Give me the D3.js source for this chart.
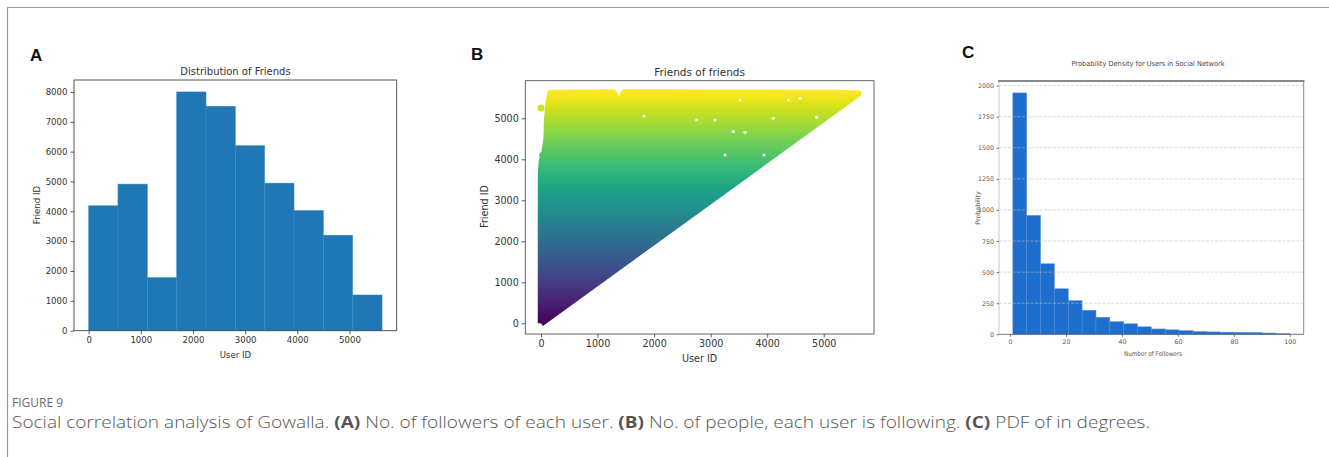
<!DOCTYPE html>
<html><head><meta charset="utf-8">
<script src="https://cdn.jsdelivr.net/npm/d3@7"></script>
<style>
body{margin:0;background:#fff;}
svg{display:block;}
</style></head>
<body><svg id="c" width="1329" height="457"></svg>
<script>
// ---------- DATA ----------
// Panel A: histogram "Distribution of Friends"
const aBinEdges = [0, 562, 1125, 1687, 2250, 2812, 3375, 3937, 4500, 5062, 5625];
const aCounts = [4185, 4912, 1779, 8000, 7519, 6199, 4945, 4028, 3200, 1197];
const aXTicks = [0, 1000, 2000, 3000, 4000, 5000];
const aYTicks = [0, 1000, 2000, 3000, 4000, 5000, 6000, 7000, 8000];

// Panel B: scatter "Friends of friends" — outline of the dense point cloud (User ID, Friend ID)
const bCloudOutline = [[0,0],[0,3600],[15,3950],[60,4150],[100,4500],[110,5000],[140,5400],[170,5620],
  [1280,5630],[1330,5480],[1430,5480],[1470,5630],[5250,5620],[5610,5600],[0,0]];
const bExtraPoints = [[0,5250],[30,4100]];
const bGaps = [[1822,5056],[3078,4958],[3401,4674],[3608,4659],[3254,4105],[3944,4105],[4374,5446],
  [4581,5488],[4108,5000],[3520,5446],[4876,5024],[2754,4958]];
const bXTicks = [0, 1000, 2000, 3000, 4000, 5000];
const bYTicks = [0, 1000, 2000, 3000, 4000, 5000];
const bColorMax = 5650;

// Panel C: "Probability Density for Users in Social Network"
const cBinEdges = [1, 5.95, 10.9, 15.85, 20.8, 25.75, 30.7, 35.65, 40.6, 45.55, 50.5, 55.45, 60.4,
  65.35, 70.3, 75.25, 80.2, 85.15, 90.1, 95.05, 100];
const cCounts = [1941, 956, 567, 366, 270, 193, 137, 101, 84, 60, 43, 36, 29, 22, 19, 17, 15, 14, 10, 5];
const cXTicks = [0, 20, 40, 60, 80, 100];
const cYTicks = [0, 250, 500, 750, 1000, 1250, 1500, 1750, 2000];

// ---------- DRAW ----------
const svg = d3.select("#c");
const FONT = "DejaVu Sans, sans-serif";

// outer frame (top + left)
svg.append("path").attr("d","M7.5,457 V7.5 H1329").attr("fill","none").attr("stroke","#9a9a9a").attr("stroke-width",1.2);

// panel letters
[["A",30,61],["B",471,60],["C",962,58]].forEach(([t,x,y])=>{
  svg.append("text").attr("x",x).attr("y",y).text(t)
    .attr("font-family","Liberation Sans, Arial, sans-serif").attr("font-weight","bold")
    .attr("font-size",17).attr("fill","#111");
});

function axes(g, xs, ys, xt, yt, opt){
  const fs = opt.fs;
  const fmt = d3.format("d");
  const xa = g.append("g").attr("transform",`translate(0,${ys.range()[0]})`)
    .call(d3.axisBottom(xs).tickValues(xt).tickFormat(fmt).tickSize(opt.tick).tickPadding(opt.pad).tickSizeOuter(0));
  const ya = g.append("g").attr("transform",`translate(${xs.range()[0]},0)`)
    .call(d3.axisLeft(ys).tickValues(yt).tickFormat(fmt).tickSize(opt.tick).tickPadding(opt.pad).tickSizeOuter(0));
  [xa,ya].forEach(a=>{
    a.select(".domain").remove();
    a.selectAll("text").attr("font-family",FONT).attr("font-size",fs).attr("fill",opt.tc||"#333");
    a.selectAll("line").attr("stroke",opt.tc||"#333").attr("stroke-width",0.8);
  });
}

// ===== Panel A =====
{
  const x = d3.scaleLinear().domain([-281, 5906]).range([74, 396.7]);
  const y = d3.scaleLinear().domain([0, 8400]).range([330.7, 80]);
  const g = svg.append("g");
  g.selectAll("rect.bar").data(aCounts).join("rect")
    .attr("x",(d,i)=>x(aBinEdges[i])).attr("width",(d,i)=>x(aBinEdges[i+1])-x(aBinEdges[i]))
    .attr("y",d=>y(d)).attr("height",d=>y(0)-y(d))
    .attr("fill","#1f77b4").attr("stroke","#3d8bc3").attr("stroke-width",0.5);
  g.append("rect").attr("x",74).attr("y",80).attr("width",396.7-74).attr("height",330.7-80)
    .attr("fill","none").attr("stroke","#444").attr("stroke-width",0.9);
  axes(g,x,y,aXTicks,aYTicks,{fs:8.6,tick:3.5,pad:3});
  g.append("text").attr("x",235.5).attr("y",75).attr("text-anchor","middle").attr("font-family",FONT)
    .attr("font-size",10).attr("fill","#333").text("Distribution of Friends");
  g.append("text").attr("x",235.5).attr("y",357.5).attr("text-anchor","middle").attr("font-family",FONT)
    .attr("font-size",8.6).attr("fill","#333").text("User ID");
  g.append("text").attr("transform","translate(40,205) rotate(-90)").attr("text-anchor","middle").attr("font-family",FONT)
    .attr("font-size",8.6).attr("fill","#333").text("Friend ID");
}

// ===== Panel B =====
{
  const x = d3.scaleLinear().domain([-278, 5889]).range([525.3, 874]);
  const y = d3.scaleLinear().domain([-261, 5917]).range([334, 80.7]);
  const g = svg.append("g");
  const defs = svg.append("defs");
  const grad = defs.append("linearGradient").attr("id","vir").attr("gradientUnits","userSpaceOnUse")
    .attr("x1",0).attr("x2",0).attr("y1",y(0)).attr("y2",y(bColorMax));
  d3.range(0,1.0001,0.05).forEach(t=>grad.append("stop").attr("offset",t).attr("stop-color",d3.interpolateViridis(t)));
  const color = d3.scaleSequential(d3.interpolateViridis).domain([0,bColorMax]);
  const line = d3.line().x(d=>x(d[0])).y(d=>y(d[1]));
  g.append("path").attr("d",line(bCloudOutline)).attr("fill","url(#vir)")
    .attr("stroke","url(#vir)").attr("stroke-width",6.5).attr("stroke-linejoin","round");
  g.selectAll("circle.pt").data(bExtraPoints).join("circle")
    .attr("cx",d=>x(d[0])).attr("cy",d=>y(d[1])).attr("r",3.5).attr("fill",d=>color(d[1]));
  g.selectAll("circle.gap").data(bGaps).join("circle")
    .attr("cx",d=>x(d[0])).attr("cy",d=>y(d[1])).attr("r",1.6).attr("fill","#fff");
  g.append("rect").attr("x",525.3).attr("y",80.7).attr("width",874-525.3).attr("height",334-80.7)
    .attr("fill","none").attr("stroke","#555").attr("stroke-width",0.9);
  axes(g,x,y,bXTicks,bYTicks,{fs:9.6,tick:3.5,pad:3});
  g.append("text").attr("x",699.6).attr("y",75.5).attr("text-anchor","middle").attr("font-family",FONT)
    .attr("font-size",10.5).attr("fill","#333").text("Friends of friends");
  g.append("text").attr("x",699.6).attr("y",361.5).attr("text-anchor","middle").attr("font-family",FONT)
    .attr("font-size",9.6).attr("fill","#333").text("User ID");
  g.append("text").attr("transform","translate(487.5,206.5) rotate(-90)").attr("text-anchor","middle").attr("font-family",FONT)
    .attr("font-size",9.6).attr("fill","#333").text("Friend ID");
}

// ===== Panel C =====
{
  const x = d3.scaleLinear().domain([-3.95, 104.95]).range([999, 1303.7]);
  const y = d3.scaleLinear().domain([0, 2037]).range([334.3, 81]);
  const g = svg.append("g");
  g.selectAll("rect.bar").data(cCounts).join("rect")
    .attr("x",(d,i)=>x(cBinEdges[i])).attr("width",(d,i)=>x(cBinEdges[i+1])-x(cBinEdges[i]))
    .attr("y",d=>y(d)).attr("height",d=>y(0)-y(d))
    .attr("fill","#1e6ecd").attr("stroke","#4f8ad6").attr("stroke-width",0.5);
  g.selectAll("line.grid").data(cYTicks.slice(1)).join("line")
    .attr("x1",999).attr("x2",1303.7).attr("y1",d=>y(d)).attr("y2",d=>y(d))
    .attr("stroke","#bdbdbd").attr("stroke-opacity",0.7).attr("stroke-width",0.8).attr("stroke-dasharray","3,1.5");
  // spines
  g.append("line").attr("x1",999).attr("x2",999).attr("y1",81).attr("y2",334.3).attr("stroke","#bbb").attr("stroke-width",0.8);
  g.append("line").attr("x1",1303.7).attr("x2",1303.7).attr("y1",81).attr("y2",334.3).attr("stroke","#888").attr("stroke-width",1);
  g.append("line").attr("x1",998).attr("x2",1304.5).attr("y1",81).attr("y2",81).attr("stroke","#8a8a8a").attr("stroke-width",2);
  g.append("line").attr("x1",999).attr("x2",1303.7).attr("y1",334.3).attr("y2",334.3).attr("stroke","#666").attr("stroke-width",0.9);
  axes(g,x,y,cXTicks,cYTicks,{fs:6.3,tick:2.5,pad:2.5,tc:"#555"});
  g.append("text").attr("x",1148).attr("y",66).attr("text-anchor","middle").attr("font-family",FONT)
    .attr("font-size",7).attr("fill","#444").attr("textLength",153).attr("lengthAdjust","spacingAndGlyphs")
    .text("Probability Density for Users in Social Network");
  g.append("text").attr("x",1153).attr("y",355.5).attr("text-anchor","middle").attr("font-family",FONT)
    .attr("font-size",6.5).attr("fill","#555").attr("textLength",58).attr("lengthAdjust","spacingAndGlyphs")
    .text("Number of Followers");
  g.append("text").attr("transform","translate(980,208) rotate(-90)").attr("text-anchor","middle").attr("font-family",FONT)
    .attr("font-size",6.3).attr("fill","#555").text("Probability");
}

// ===== Caption =====
svg.append("text").attr("x",12).attr("y",407).attr("font-family","Open Sans, sans-serif")
  .attr("font-size",12).attr("fill","#6b6b6b").text("FIGURE 9");
const cap = svg.append("text").attr("x",12).attr("y",428).attr("font-family","Open Sans, sans-serif")
  .attr("font-size",15.5).attr("fill","#555").attr("font-weight",300)
  .attr("textLength",1138).attr("lengthAdjust","spacingAndGlyphs");
const parts = [["Social correlation analysis of Gowalla. ",0],["(A)",1],[" No. of followers of each user. ",0],["(B)",1],
  [" No. of people, each user is following. ",0],["(C)",1],[" PDF of in degrees.",0]];
parts.forEach(([t,b])=>cap.append("tspan").attr("font-weight",b?700:300).text(t));
</script></body></html>
